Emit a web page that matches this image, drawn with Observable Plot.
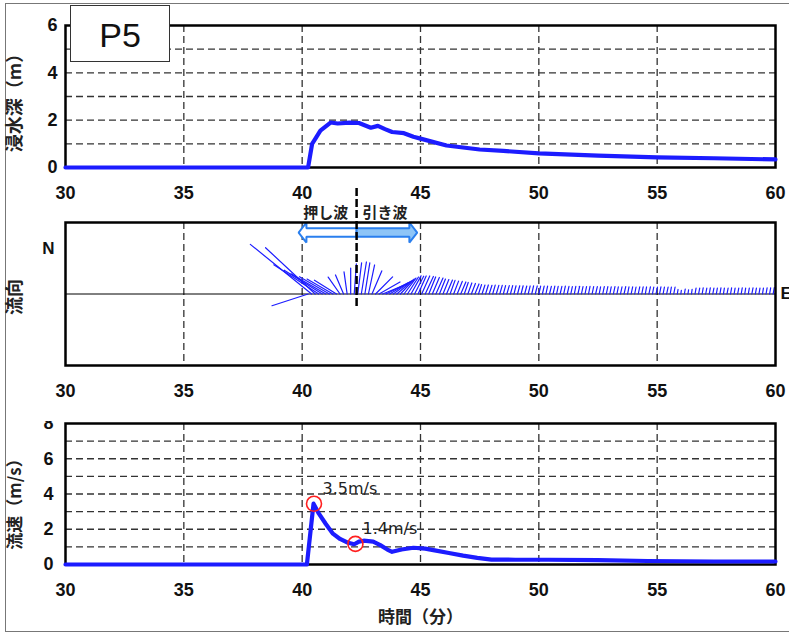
<!DOCTYPE html>
<html><head><meta charset="utf-8">
<script src="https://cdn.jsdelivr.net/npm/d3@7"></script>
<script src="https://cdn.jsdelivr.net/npm/@observablehq/plot@0.6"></script>
<style>
html,body{margin:0;padding:0;background:#fff;}
#root{position:relative;width:789px;height:634px;overflow:hidden;background:#fff;}
#border{position:absolute;left:5px;top:3px;width:900px;height:627px;border-left:1px solid #777;border-top:1px solid #777;border-bottom:1px solid #777;}
#tag{position:absolute;left:70px;top:5px;width:100px;height:57px;box-sizing:border-box;border:1.5px solid #333;background:#fff;font:34px "Liberation Sans",Arial,sans-serif;color:#111;display:flex;align-items:center;justify-content:center;padding-top:4px;}
#p3wrap{position:absolute;left:0;top:421px;width:789px;height:213px;overflow:hidden;}
</style></head>
<body><div id="root"><div id="border"></div></div>
<script>
// ---------- data ----------
const xTicks = [30, 35, 40, 45, 50, 55, 60];
const xGrid = [35, 40, 45, 50, 55];

const depthTicks = [0, 2, 4, 6];
const depthGrid = [1, 2, 3, 4, 5];
const depthTime  = [30, 40.25, 40.42, 40.56, 40.77, 41.2, 41.5, 42.0, 42.4, 42.9, 43.2, 43.5, 43.8, 44.3, 44.7, 45.0, 46.1, 47.5, 48.5, 50, 52.5, 55, 57.4, 60];
const depthValue = [0, 0, 1.0, 1.22, 1.56, 1.9, 1.86, 1.9, 1.88, 1.68, 1.76, 1.62, 1.5, 1.45, 1.3, 1.22, 0.93, 0.76, 0.7, 0.6, 0.5, 0.43, 0.39, 0.34];

const speedTicks = [0, 2, 4, 6, 8];
const speedGrid = [1, 2, 3, 4, 5, 6, 7];
const speedTime  = [30, 40.2, 40.48, 40.7, 41.0, 41.3, 41.6, 41.9, 42.2, 42.4, 42.6, 43.0, 43.3, 43.6, 43.8, 44.2, 44.7, 45.2, 45.6, 46.2, 46.8, 47.4, 48.0, 49, 50.4, 52.5, 54.6, 57.4, 60];
const speedValue = [0, 0, 3.45, 2.9, 2.3, 1.75, 1.45, 1.25, 1.15, 1.3, 1.35, 1.3, 1.1, 0.85, 0.72, 0.85, 0.95, 0.9, 0.8, 0.65, 0.5, 0.38, 0.28, 0.27, 0.27, 0.25, 0.2, 0.17, 0.17];

const peakTime  = [40.5, 42.25];
const peakValue = [3.45, 1.17];
const peakLabel = ["3.5m/s", "1.4m/s"];
const peakLabelTime  = [40.86, 42.55];
const peakLabelValue = [4.3, 2.0];

// flow direction sticks: time (min), direction (deg clockwise from N), speed (m/s)
const stickTime = [40.25,40.40,40.55,40.70,40.85,41.00,41.15,41.30,41.45,41.60,41.75,41.90,42.05,42.20,42.35,42.50,42.65,42.80,42.95,43.10,43.25,43.40,43.55,43.70,43.85,44.00,44.15,44.30,44.45,44.60,44.75,44.90,45.05,45.20,45.35,45.50,45.65,45.80,45.95,46.10,46.25,46.40,46.55,46.70,46.85,47.00,47.15,47.30,47.45,47.60,47.75,47.90,48.05,48.20,48.35,48.50,48.65,48.80,48.95,49.10,49.25,49.40,49.55,49.70,49.85,50.00,50.15,50.30,50.45,50.60,50.75,50.90,51.05,51.20,51.35,51.50,51.65,51.80,51.95,52.10,52.25,52.40,52.55,52.70,52.85,53.00,53.15,53.30,53.45,53.60,53.75,53.90,54.05,54.20,54.35,54.50,54.65,54.80,54.95,55.10,55.25,55.40,55.55,55.70,55.85,56.00,56.15,56.30,56.45,56.60,56.75,56.90,57.05,57.20,57.35,57.50,57.65,57.80,57.95,58.10,58.25,58.40,58.55,58.70,58.85,59.00,59.15,59.30,59.45,59.60,59.75,59.90];
const stickDir = [252,309,313,303,302,300,300,300,302,325,
  337,352,0,4,7,9,9,12,23,45,
  60,68,63,59,54,49,43,37,33,29,
  27,24,24,25,22,23,24,22,22,23,
  20,21,22,23,19,20,21,22,18,18,
  17,18,16,17,16,15,16,15,14,15,
  14,15,14,13,14,13,13,12,14,13,
  12,13,12,13,12,11,13,12,12,11,
  12,13,11,12,12,11,12,11,12,13,
  11,12,11,12,11,10,12,11,12,11,
  11,12,10,11,10,8,10,9,8,10,
  11,10,11,10,11,10,10,9,11,10,
  10,11,10,9,10,11,10,10,9,10,
  10,10];
const stickSpeed = [1.65,3.43,2.95,2.33,1.95,1.75,1.50,1.30,1.13,0.90,
  0.90,0.97,1.13,1.31,1.36,1.41,1.37,1.29,1.09,1.05,
  1.05,1.17,1.07,1.01,0.97,0.92,0.89,0.87,0.88,0.90,
  0.87,0.86,0.86,0.84,0.80,0.78,0.76,0.70,0.68,0.66,
  0.63,0.60,0.59,0.57,0.53,0.51,0.49,0.47,0.43,0.41,
  0.41,0.40,0.40,0.39,0.39,0.38,0.38,0.38,0.37,0.37,
  0.37,0.36,0.36,0.36,0.36,0.35,0.35,0.35,0.34,0.35,
  0.34,0.34,0.35,0.34,0.33,0.34,0.34,0.33,0.33,0.34,
  0.33,0.33,0.32,0.33,0.33,0.32,0.33,0.32,0.32,0.33,
  0.32,0.32,0.31,0.32,0.32,0.31,0.32,0.31,0.31,0.32,
  0.31,0.31,0.30,0.31,0.20,0.16,0.22,0.18,0.20,0.26,
  0.26,0.27,0.26,0.27,0.26,0.26,0.27,0.26,0.26,0.27,
  0.26,0.26,0.27,0.26,0.26,0.27,0.26,0.26,0.26,0.27,
  0.27,0.28];

// push / pull wave annotation
const waveBoundary = 42.3;
const waveEnd = [39.85, 44.86];
const waveLabel = ["押し波", "引き波"];
const waveLabelTime = [41.0, 43.5];
const waveFill = ["#ffffff", "#8ec5f7"];

// ---------- styling ----------
const BLUE = "#1c1cff";
const LATIN = "'Liberation Sans', Arial, sans-serif";
const CJK = "'Noto Sans CJK JP', sans-serif";
const gridStyle = {stroke: "#333", strokeDasharray: "7,4", strokeWidth: 1.3};
const baseStyle = {fontFamily: LATIN, fontSize: "18px", color: "#111", background: "transparent", overflow: "visible"};
const intFmt = d => String(d);

const root = document.getElementById("root");
function place(svg, top, parent) {
  svg.style.position = "absolute";
  svg.style.left = "0px";
  svg.style.top = top + "px";
  (parent || root).appendChild(svg);
}

// ---------- panel 1: inundation depth ----------
const depthData = depthTime.map((t, i) => ({t, v: depthValue[i]}));
const p1 = Plot.plot({
  width: 789, height: 205,
  marginLeft: 65, marginRight: 14, marginTop: 25, marginBottom: 38,
  x: {domain: [30, 60]},
  y: {domain: [0, 6]},
  style: baseStyle,
  marks: [
    Plot.ruleY(depthGrid, gridStyle),
    Plot.ruleX(xGrid, gridStyle),
    Plot.axisX({ticks: xTicks, tickFormat: intFmt, tickSize: 0, tickPadding: 19, fontWeight: "bold", label: null}),
    Plot.axisY({ticks: depthTicks, tickFormat: intFmt, tickSize: 0, tickPadding: 8, fontWeight: "bold", label: null}),
    Plot.frame({stroke: "#000", strokeWidth: 2.5}),
    Plot.line(depthData, {x: "t", y: "v", stroke: BLUE, strokeWidth: 4.2}),
    Plot.text(["浸水深（m）"], {frameAnchor: "left", textAnchor: "middle", rotate: -90, dx: -50, dy: 2, fontSize: 18, fontWeight: "bold", fontFamily: CJK, fill: "#222"})
  ]
});
place(p1, 0);

// ---------- panel 2: flow direction ----------
const sticks = stickTime.map((t, i) => ({t, base: 0, dir: stickDir[i], speed: stickSpeed[i]}));
const lineShape = {draw(context, l) { context.moveTo(0, 0); context.lineTo(0, -l); }};
function arrowPolygon(from, to, yc) {
  const s = Math.sign(to - from), hb = 0.058, hh = 0.14, hl = 0.33, b = to - s * hl;
  return [[from, yc + hb], [b, yc + hb], [b, yc + hh], [to, yc], [b, yc - hh], [b, yc - hb], [from, yc - hb], [from, yc + hb]];
}
const arrowY = 0.86;
const arrowMarks = waveEnd.map((end, i) =>
  Plot.line(arrowPolygon(waveBoundary, end, arrowY), {x: d => d[0], y: d => d[1], fill: waveFill[i], stroke: "#2a7fee", strokeWidth: 2, strokeLinejoin: "miter"}));
const p2 = Plot.plot({
  width: 789, height: 219,
  marginLeft: 65, marginRight: 14, marginTop: 36, marginBottom: 40,
  x: {domain: [30, 60]},
  y: {domain: [-1, 1], axis: null},
  length: {domain: [0, 4], range: [0, 92]},
  style: baseStyle,
  marks: [
    Plot.ruleX(xGrid, gridStyle),
    Plot.ruleY([0], {stroke: "#000", strokeWidth: 1}),
    Plot.axisX({ticks: xTicks, tickFormat: intFmt, tickSize: 0, tickPadding: 19, fontWeight: "bold", label: null}),
    Plot.vector(sticks, {x: "t", y: "base", rotate: "dir", length: "speed", anchor: "start", shape: lineShape, stroke: BLUE, strokeWidth: 1.2}),
    ...arrowMarks,
    Plot.ruleX([waveBoundary], {y1: 1.476, y2: -0.19, stroke: "#000", strokeWidth: 2.5, strokeDasharray: "8,3"}),
    Plot.text(waveLabel, {x: (d, i) => waveLabelTime[i], y: 1.126, text: d => d, fontSize: 15, fontWeight: "bold", fontFamily: CJK, fill: "#222"}),
    Plot.frame({stroke: "#000", strokeWidth: 2.5}),
    Plot.text(["N"], {x: 30, y: 0.636, text: d => d, dx: -17, fontSize: 17, fontWeight: "bold", fill: "#111"}),
    Plot.text(["E"], {x: 60, y: 0, text: d => d, dx: 5, textAnchor: "start", fontSize: 17, fontWeight: "bold", fill: "#111"}),
    Plot.text(["流向"], {frameAnchor: "left", textAnchor: "middle", rotate: -90, dx: -50, dy: 3, fontSize: 18, fontWeight: "bold", fontFamily: CJK, fill: "#222"})
  ]
});
place(p2, 186);

// ---------- panel 3: flow speed ----------
const wrap = document.createElement("div");
wrap.id = "p3wrap";
root.appendChild(wrap);
const speedData = speedTime.map((t, i) => ({t, v: speedValue[i]}));
const peaks = peakTime.map((t, i) => ({t, v: peakValue[i], label: peakLabel[i], lt: peakLabelTime[i], lv: peakLabelValue[i]}));
const p3 = Plot.plot({
  width: 789, height: 213,
  marginLeft: 65, marginRight: 14, marginTop: 2, marginBottom: 70,
  x: {domain: [30, 60]},
  y: {domain: [0, 8]},
  style: baseStyle,
  marks: [
    Plot.ruleY(speedGrid, gridStyle),
    Plot.ruleX(xGrid, gridStyle),
    Plot.axisX({ticks: xTicks, tickFormat: intFmt, tickSize: 0, tickPadding: 19, fontWeight: "bold", label: null}),
    Plot.axisY({ticks: speedTicks, tickFormat: intFmt, tickSize: 0, tickPadding: 12, fontWeight: "bold", label: null}),
    Plot.frame({stroke: "#000", strokeWidth: 2.5}),
    Plot.line(speedData, {x: "t", y: "v", stroke: BLUE, strokeWidth: 4.2}),
    Plot.dot(peaks, {x: "t", y: "v", r: 7.5, stroke: "#ff1f1f", strokeWidth: 1.6, fill: "none"}),
    Plot.text(peaks, {x: "lt", y: "lv", text: "label", textAnchor: "start", fontSize: 16, fontFamily: "'DejaVu Sans', sans-serif", fill: "#222"}),
    Plot.text(["流速（m/s）"], {frameAnchor: "left", textAnchor: "middle", rotate: -90, dx: -50, dy: 6, fontSize: 17, fontWeight: "bold", fontFamily: CJK, fill: "#222"}),
    Plot.text(["時間（分）"], {frameAnchor: "bottom", dy: 58, fontSize: 17, fontWeight: "bold", fontFamily: CJK, fill: "#222"})
  ]
});
place(p3, 0, wrap);

// ---------- site tag ----------
const tag = document.createElement("div");
tag.id = "tag";
tag.textContent = "P5";
root.appendChild(tag);
</script>
</body></html>
